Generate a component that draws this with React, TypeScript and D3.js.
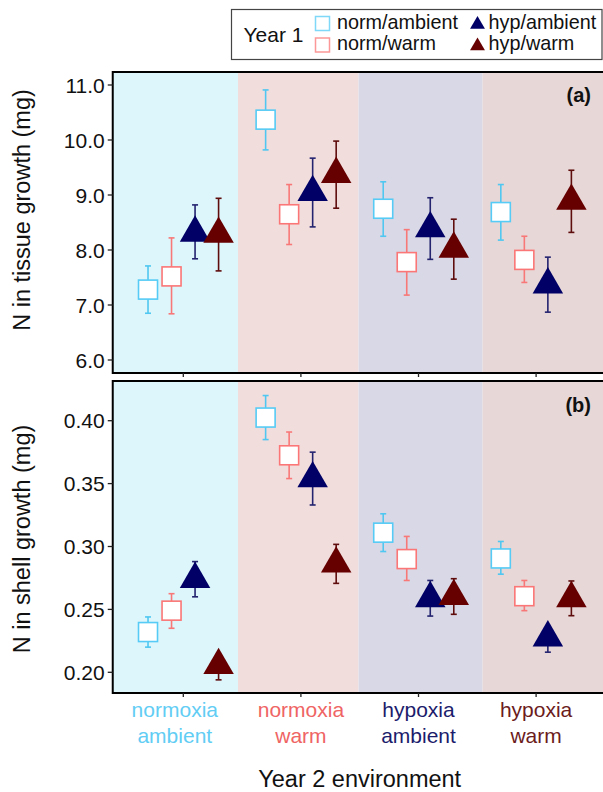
import { useRef, useEffect } from 'react';
import * as d3 from 'd3';

// Year 2 environments (x categories), two-line labels
const envLine1 = ['normoxia', 'normoxia', 'hypoxia', 'hypoxia'];
const envLine2 = ['ambient', 'warm', 'ambient', 'warm'];
const envColors = ['#62cdf4', '#ef6464', '#1c1c6c', '#6c1c1c'];

// background band edges (in category units) and fills
const bandEdges = [0.4, 1.465, 2.49, 3.545, 4.6];
const bandFills = ['#ddf6fc', '#f2dddd', '#d9d8e6', '#e7d7d7'];

// Year 1 groups
const groups = ['norm/ambient', 'norm/warm', 'hyp/ambient', 'hyp/warm'];
const groupColors = ['#55cbf5', '#fb7676', '#000066', '#660000'];
const barColors = ['#4fc7f0', '#f87878', '#23236f', '#5e0c0c'];
const dodge = [-0.3, -0.1, 0.1, 0.3];

// N in tissue growth (mg)
const tissueMean = [
  [7.28, 10.37, 8.75, 8.69],
  [7.52, 8.65, 7.78, 7.82],
  [8.31, 9.05, 8.39, 7.37],
  [8.29, 9.38, 8.02, 8.89],
];
const tissueLo = [
  [6.85, 9.82, 8.25, 8.18],
  [6.84, 8.1, 7.18, 7.41],
  [7.84, 8.42, 7.83, 6.87],
  [7.62, 8.76, 7.47, 8.32],
];
const tissueHi = [
  [7.71, 10.91, 9.24, 9.19],
  [8.22, 9.19, 8.37, 8.25],
  [8.82, 9.67, 8.95, 7.87],
  [8.94, 9.98, 8.56, 9.45],
];

// N in shell growth (mg)
const shellMean = [
  [0.232, 0.4025, 0.311, 0.2905],
  [0.249, 0.3725, 0.29, 0.2605],
  [0.274, 0.354, 0.2588, 0.2275],
  [0.2056, 0.2863, 0.2604, 0.2588],
];
const shellLo = [
  [0.22, 0.385, 0.296, 0.278],
  [0.235, 0.354, 0.273, 0.249],
  [0.26, 0.333, 0.2447, 0.216],
  [0.194, 0.2707, 0.2461, 0.245],
];
const shellHi = [
  [0.244, 0.42, 0.326, 0.304],
  [0.2625, 0.391, 0.308, 0.273],
  [0.288, 0.375, 0.273, 0.235],
  [0.213, 0.3017, 0.2744, 0.2726],
];

const tissueTicks = [6, 7, 8, 9, 10, 11];
const shellTicks = [0.2, 0.25, 0.3, 0.35, 0.4];

const FONT = '"Liberation Sans", Arial, Helvetica, sans-serif';

const App = () => {
  const svgRef = useRef<SVGSVGElement>(null);

  useEffect(() => {
    const width = 603;
    const height = 792;
    const svg = d3.select(svgRef.current);
    svg.selectAll('*').remove();

    const x = d3.scaleLinear().domain([1, 4]).range([183.3, 536.1]);

    const panels = [
      {
        top: 72, bottom: 373,
        y: d3.scaleLinear().domain([6, 11]).range([360, 85]),
        ticks: tissueTicks, fmt: d3.format('.1f'),
        mean: tissueMean, lo: tissueLo, hi: tissueHi,
        tag: '(a)', tagY: 102, title: 'N in tissue growth (mg)', titleY: 210,
      },
      {
        top: 381, bottom: 693,
        y: d3.scaleLinear().domain([0.2, 0.4]).range([672.3, 420.7]),
        ticks: shellTicks, fmt: d3.format('.2f'),
        mean: shellMean, lo: shellLo, hi: shellHi,
        tag: '(b)', tagY: 412, title: 'N in shell growth (mg)', titleY: 539,
      },
    ];

    const left = x(bandEdges[0]);
    const right = x(bandEdges[bandEdges.length - 1]);
    const triR = 17.6;
    const tri = (r: number) => `M0,${-r}L${0.866 * r},${r / 2}L${-0.866 * r},${r / 2}Z`;
    const sq = 19;

    panels.forEach(p => {
      const g = svg.append('g');

      // background bands
      g.selectAll('rect.band')
        .data(bandFills)
        .enter()
        .append('rect')
        .attr('x', (d, i) => x(bandEdges[i]))
        .attr('y', p.top)
        .attr('width', (d, i) => x(bandEdges[i + 1]) - x(bandEdges[i]))
        .attr('height', p.bottom - p.top)
        .attr('fill', d => d);

      // error bars
      groups.forEach((grp, gi) => {
        const bars = g.append('g').attr('stroke', barColors[gi]).attr('stroke-width', 1.6);
        p.mean[gi].forEach((m, ci) => {
          const cx = x(ci + 1 + dodge[gi]);
          const y0 = p.y(p.lo[gi][ci]);
          const y1 = p.y(p.hi[gi][ci]);
          bars.append('line').attr('x1', cx).attr('x2', cx).attr('y1', y0).attr('y2', y1);
          bars.append('line').attr('x1', cx - 3).attr('x2', cx + 3).attr('y1', y0).attr('y2', y0);
          bars.append('line').attr('x1', cx - 3).attr('x2', cx + 3).attr('y1', y1).attr('y2', y1);
        });
      });

      // points
      groups.forEach((grp, gi) => {
        p.mean[gi].forEach((m, ci) => {
          const cx = x(ci + 1 + dodge[gi]);
          const cy = p.y(m);
          if (gi < 2) {
            g.append('rect')
              .attr('x', cx - sq / 2)
              .attr('y', cy - sq / 2)
              .attr('width', sq)
              .attr('height', sq)
              .attr('fill', 'white')
              .attr('stroke', groupColors[gi])
              .attr('stroke-width', 1.6);
          } else {
            g.append('path')
              .attr('d', tri(triR))
              .attr('transform', `translate(${cx},${cy})`)
              .attr('fill', groupColors[gi]);
          }
        });
      });

      // panel border
      g.append('rect')
        .attr('x', left)
        .attr('y', p.top)
        .attr('width', right - left)
        .attr('height', p.bottom - p.top)
        .attr('fill', 'none')
        .attr('stroke', 'black')
        .attr('stroke-width', 2);

      // y ticks
      p.ticks.forEach(t => {
        g.append('line')
          .attr('x1', left - 5).attr('x2', left)
          .attr('y1', p.y(t)).attr('y2', p.y(t))
          .attr('stroke', '#222').attr('stroke-width', 1.3);
        g.append('text')
          .attr('x', left - 8)
          .attr('y', p.y(t))
          .attr('dy', '0.36em')
          .attr('text-anchor', 'end')
          .attr('font-family', FONT)
          .attr('font-size', 21)
          .attr('fill', '#111')
          .text(p.fmt(t));
      });

      // x ticks
      envLine1.forEach((e, ci) => {
        g.append('line')
          .attr('x1', x(ci + 1)).attr('x2', x(ci + 1))
          .attr('y1', p.bottom).attr('y2', p.bottom + 4)
          .attr('stroke', '#222').attr('stroke-width', 1.3);
      });

      // panel tag
      g.append('text')
        .attr('x', 591)
        .attr('y', p.tagY)
        .attr('text-anchor', 'end')
        .attr('font-family', FONT)
        .attr('font-weight', 'bold')
        .attr('font-size', 20)
        .attr('fill', '#111')
        .text(p.tag);

      // y title
      g.append('text')
        .attr('transform', `translate(29.5,${p.titleY}) rotate(-90)`)
        .attr('text-anchor', 'middle')
        .attr('font-family', FONT)
        .attr('font-size', 23.5)
        .attr('fill', '#111')
        .text(p.title);
    });

    // category labels
    envLine1.forEach((e, ci) => {
      const dx = ci === 0 ? -8.5 : 0;
      const t = svg.append('text')
        .attr('text-anchor', 'middle')
        .attr('font-family', FONT)
        .attr('font-size', 21)
        .attr('fill', envColors[ci]);
      t.append('tspan').attr('x', x(ci + 1) + dx).attr('y', 716.7).text(e);
      t.append('tspan').attr('x', x(ci + 1) + dx).attr('y', 742.7).text(envLine2[ci]);
    });

    svg.append('text')
      .attr('x', 359.7)
      .attr('y', 786.7)
      .attr('text-anchor', 'middle')
      .attr('font-family', FONT)
      .attr('font-size', 23.5)
      .attr('fill', '#111')
      .text('Year 2 environment');

    // legend
    const lg = svg.append('g');
    lg.append('rect')
      .attr('x', 231.5).attr('y', 9.5)
      .attr('width', 370.5).attr('height', 50)
      .attr('fill', 'white')
      .attr('stroke', '#444')
      .attr('stroke-width', 1.2);
    lg.append('text')
      .attr('x', 243.5).attr('y', 41.7)
      .attr('font-family', FONT).attr('font-size', 21).attr('fill', '#111')
      .text('Year 1');
    const keyX = [322.5, 322.5, 477.5, 477.5];
    const keyY = [23.5, 45, 24.5, 46];
    const textX = [337, 337, 488.5, 488.5];
    const textY = [29, 50, 29, 50];
    groups.forEach((grp, gi) => {
      if (gi < 2) {
        lg.append('rect')
          .attr('x', keyX[gi] - 7).attr('y', keyY[gi] - 7)
          .attr('width', 14).attr('height', 14)
          .attr('fill', 'white')
          .attr('stroke', groupColors[gi]).attr('stroke-opacity', 0.75)
          .attr('stroke-width', 1.5);
      } else {
        lg.append('path')
          .attr('d', tri(8.6))
          .attr('transform', `translate(${keyX[gi]},${keyY[gi]})`)
          .attr('fill', groupColors[gi]);
      }
      lg.append('text')
        .attr('x', textX[gi]).attr('y', textY[gi])
        .attr('font-family', FONT).attr('font-size', 19.8).attr('fill', '#111')
        .text(grp);
    });

    svg.attr('width', width).attr('height', height);
  }, []);

  return (
    <div style={{ position: 'absolute', left: 0, top: 0 }}>
      <svg ref={svgRef} width={603} height={792} style={{ display: 'block' }}></svg>
    </div>
  );
};

export default App;
